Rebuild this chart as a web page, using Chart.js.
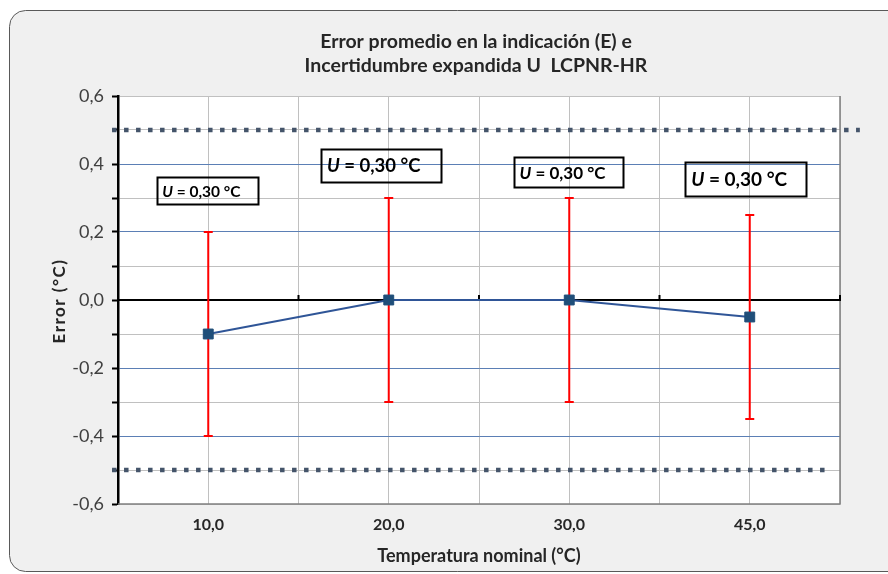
<!DOCTYPE html>
<html>
<head>
<meta charset="utf-8">
<script src="https://cdn.jsdelivr.net/npm/chart.js@4.4.0/dist/chart.umd.min.js"></script>
<style>
html,body{margin:0;padding:0;background:#fff;}
#wrap{width:888px;height:574px;position:relative;}
</style>
</head>
<body>
<div id="wrap"><canvas id="c"></canvas></div>
<script>
// ---- data ----
const categories = ['10,0', '20,0', '30,0', '45,0'];
const errorValues = [-0.1, 0.0, 0.0, -0.05];
const uncertainty = [0.30, 0.30, 0.30, 0.30];
const upperLimit = 0.5;
const lowerLimit = -0.5;
const yTickValues = [-0.6, -0.4, -0.2, 0.0, 0.2, 0.4, 0.6];
const titleLines = ['Error promedio en la indicación (E) e', 'Incertidumbre expandida U  LCPNR-HR'];
const yAxisTitle = 'Error (°C)';
const xAxisTitle = 'Temperatura nominal (°C)';
const boxLabelPrefix = 'U';
const boxLabelValue = ' = 0,30 °C';

// ---- styling / annotation placement ----
const FONT = 'Lato, "Open Sans", sans-serif';
const boxes = [
  {x: 0.99, y: 0.322, w: 101, h: 27, size: 15.5},
  {x: 2.91, y: 0.396, w: 120, h: 33, size: 18.5},
  {x: 4.99, y: 0.376, w: 109, h: 30, size: 17},
  {x: 6.95, y: 0.355, w: 121, h: 34, size: 19}
];

const pointData = errorValues.map((v, i) => ({x: 2 * i + 1, y: v}));

const bgPlugin = {
  id: 'bg',
  beforeDraw(chart) {
    const ctx = chart.ctx;
    ctx.save();
    ctx.fillStyle = '#ffffff';
    ctx.fillRect(0, 0, chart.width, chart.height);
    const x0 = 9.5, y0 = 10.5, x1 = chart.width + 20, y1 = chart.height - 2.5, r = 16;
    ctx.beginPath();
    ctx.moveTo(x0 + r, y0);
    ctx.lineTo(x1, y0);
    ctx.lineTo(x1, y1);
    ctx.lineTo(x0 + r, y1);
    ctx.arcTo(x0, y1, x0, y1 - r, r);
    ctx.lineTo(x0, y0 + r);
    ctx.arcTo(x0, y0, x0 + r, y0, r);
    ctx.closePath();
    ctx.fillStyle = '#f0f0f0';
    ctx.fill();
    ctx.strokeStyle = '#595959';
    ctx.lineWidth = 1;
    ctx.stroke();
    const a = chart.chartArea;
    ctx.fillStyle = '#ffffff';
    ctx.fillRect(a.left, a.top, a.right - a.left, a.bottom - a.top);
    // title
    ctx.fillStyle = '#262626';
    ctx.font = 'bold 19.5px ' + FONT;
    ctx.textAlign = 'center';
    ctx.textBaseline = 'middle';
    const cx = (a.left + a.right) / 2 - 3;
    titleLines.forEach((t, i) => ctx.fillText(t, cx, 42 + i * 24));
    // y axis title
    ctx.save();
    ctx.translate(60, (a.top + a.bottom) / 2 + 1);
    ctx.rotate(-Math.PI / 2);
    ctx.font = 'bold 17px ' + FONT;
    try { ctx.letterSpacing = '1.5px'; } catch (e) {}
    ctx.fillText(yAxisTitle, 0, 0);
    ctx.restore();
    ctx.restore();
  },
  beforeDatasetsDraw(chart) {
    const ctx = chart.ctx, xs = chart.scales.x, ys = chart.scales.y, a = chart.chartArea;
    ctx.save();
    // plot border right / bottom
    ctx.strokeStyle = '#808080';
    ctx.lineWidth = 1.5;
    ctx.beginPath();
    ctx.moveTo(a.left, a.bottom);
    ctx.lineTo(a.right, a.bottom);
    ctx.lineTo(a.right, a.top);
    ctx.stroke();
    // zero axis line with ticks at category boundaries
    const y0 = ys.getPixelForValue(0);
    ctx.strokeStyle = '#000';
    ctx.lineWidth = 2;
    ctx.beginPath();
    ctx.moveTo(a.left, y0);
    ctx.lineTo(a.right + 1, y0);
    for (let k = 2; k <= 8; k += 2) {
      const px = xs.getPixelForValue(k);
      ctx.moveTo(px, y0);
      ctx.lineTo(px, y0 - 5);
    }
    ctx.stroke();
    // error bars
    ctx.strokeStyle = '#ff0000';
    ctx.lineWidth = 2;
    pointData.forEach((p, i) => {
      const px = xs.getPixelForValue(p.x);
      const top = ys.getPixelForValue(p.y + uncertainty[i]);
      const bot = ys.getPixelForValue(p.y - uncertainty[i]);
      ctx.beginPath();
      ctx.moveTo(px, top); ctx.lineTo(px, bot);
      ctx.moveTo(px - 4.5, top); ctx.lineTo(px + 4.5, top);
      ctx.moveTo(px - 4.5, bot); ctx.lineTo(px + 4.5, bot);
      ctx.stroke();
    });
    ctx.restore();
  },
  afterDatasetsDraw(chart) {
    const ctx = chart.ctx, xs = chart.scales.x, ys = chart.scales.y;
    ctx.save();
    boxes.forEach(b => {
      const cx = xs.getPixelForValue(b.x), cy = ys.getPixelForValue(b.y);
      const l = Math.round(cx - b.w / 2) + 0.5, t = Math.round(cy - b.h / 2) + 0.5;
      ctx.strokeStyle = '#000';
      ctx.lineWidth = 2;
      ctx.strokeRect(l, t, b.w, b.h);
      ctx.fillStyle = '#000';
      ctx.textBaseline = 'middle';
      ctx.textAlign = 'left';
      ctx.font = 'italic bold ' + b.size + 'px ' + FONT;
      const w1 = ctx.measureText(boxLabelPrefix).width;
      const sx = l + b.size * 0.3;
      ctx.fillText(boxLabelPrefix, sx, cy + 1);
      ctx.font = 'bold ' + b.size + 'px ' + FONT;
      ctx.fillText(boxLabelValue, sx + w1, cy + 1);
    });
    ctx.restore();
  }
};

new Chart(document.getElementById('c'), {
  type: 'line',
  data: {
    datasets: [
      {
        data: pointData,
        borderColor: '#2f5597',
        borderWidth: 2,
        pointStyle: 'rect',
        pointRadius: 7,
        pointBackgroundColor: '#1f4e79',
        pointBorderColor: '#1f4e79',
        pointBorderWidth: 1,
        tension: 0,
        order: 1
      },
      {
        data: [{x: -0.066, y: upperLimit}, {x: 8.22, y: upperLimit}],
        borderColor: '#44546a',
        borderWidth: 4.5,
        borderDash: [4.5, 7.5],
        borderCapStyle: 'butt',
        pointRadius: 0,
        clip: false,
        order: 2
      },
      {
        data: [{x: -0.066, y: lowerLimit}, {x: 7.85, y: lowerLimit}],
        borderColor: '#44546a',
        borderWidth: 4.5,
        borderDash: [4.5, 7.5],
        borderCapStyle: 'butt',
        pointRadius: 0,
        clip: false,
        order: 2
      }
    ]
  },
  options: {
    responsive: true,
    maintainAspectRatio: false,
    animation: false,
    layout: {padding: {left: 0, top: 96, right: 48, bottom: 0}},
    plugins: {legend: {display: false}, title: {display: false}, tooltip: {enabled: false}},
    scales: {
      x: {
        type: 'linear',
        min: 0, max: 8,
        afterBuildTicks(scale) {
          scale.ticks = [0,1,2,3,4,5,6,7,8].map(v => ({value: v}));
        },
        afterFit(scale) { scale.height = 70; },
        ticks: {
          autoSkip: false,
          maxRotation: 0,
          padding: 11,
          color: '#262626',
          font: {family: FONT, size: 16, weight: 'bold'},
          callback: (v) => (v % 2 === 1 ? categories[(v - 1) / 2] : '')
        },
        grid: {color: '#c0c0c0', lineWidth: 1, drawTicks: false},
        border: {display: false},
        title: {
          display: true,
          text: xAxisTitle,
          color: '#262626',
          font: {family: FONT, size: 18, weight: 'bold'},
          padding: {top: 0, bottom: 7}
        }
      },
      y: {
        min: -0.6, max: 0.6,
        afterBuildTicks(scale) {
          const arr = [];
          for (let k = -6; k <= 6; k++) arr.push({value: k / 10});
          scale.ticks = arr;
        },
        afterFit(scale) { scale.width = 118; },
        ticks: {
          autoSkip: false,
          padding: 8,
          color: '#404040',
          font: {family: FONT, size: 18},
          callback: (v) => {
            const k = Math.round(v * 10);
            if (k % 2 !== 0) return '';
            const match = yTickValues.find(t => Math.round(t * 10) === k);
            return match === undefined ? '' : match.toFixed(1).replace('.', ',');
          }
        },
        grid: {
          drawTicks: true,
          tickLength: 6,
          tickColor: '#000',
          tickWidth: 2,
          lineWidth: 1,
          color: (c) => {
            const k = Math.round(c.tick.value * 10);
            if (Math.abs(k) === 6) return '#c0c0c0';
            if (k === 0) return 'rgba(0,0,0,0)';
            return k % 2 === 0 ? '#5b7fb5' : '#c0c0c0';
          }
        },
        border: {display: true, color: '#000', width: 2.5},
        title: {display: false}
      }
    }
  },
  plugins: [bgPlugin]
});
</script>
</body>
</html>
